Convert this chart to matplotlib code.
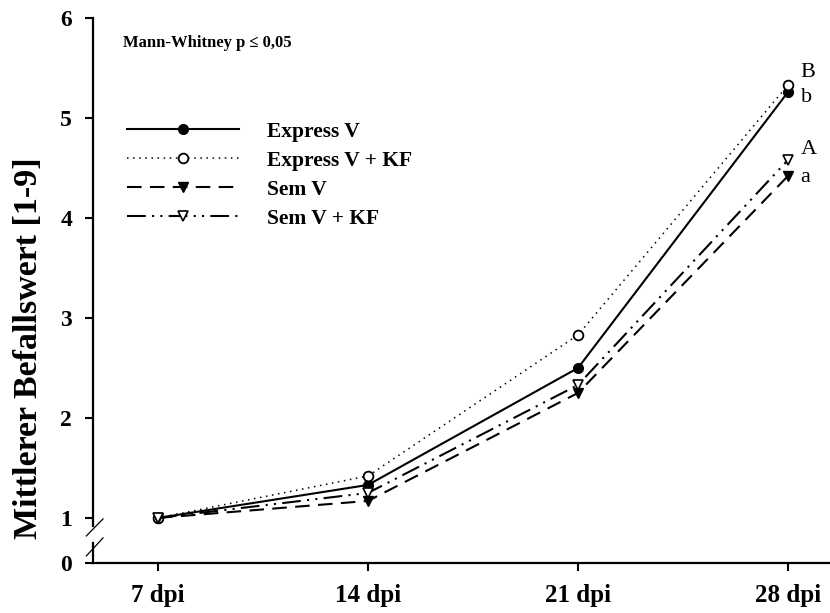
import matplotlib
matplotlib.use("Agg")
import matplotlib.pyplot as plt
from matplotlib.lines import Line2D
import matplotlib.transforms as mtransforms

categories = ["7 dpi", "14 dpi", "21 dpi", "28 dpi"]
express_v = [1.0, 1.33, 2.50, 5.26]
express_v_kf = [1.0, 1.42, 2.83, 5.33]
sem_v = [1.0, 1.17, 2.25, 4.42]
sem_v_kf = [1.0, 1.25, 2.33, 4.58]
series_names = ["Express V", "Express V + KF", "Sem V", "Sem V + KF"]
y_ticks = [1, 2, 3, 4, 5, 6]
y_zero_pos = 0.549
letters = ["B", "b", "A", "a"]
letter_y = [5.45, 5.2, 4.68, 4.4]

plt.rcParams['font.family'] = ['Liberation Serif', 'DejaVu Serif']

fig = plt.figure(figsize=(8.30, 6.13), dpi=100)
ax = fig.add_axes([93/830, 50/613, 1 - 93/830, (563 - 18)/613])

x = list(range(len(categories)))
lw = 1.5
ax.plot(x, express_v, color='black', lw=lw, ls='-', marker='o', ms=7,
        mfc='black', mec='black', label=series_names[0])
ax.plot(x, express_v_kf, color='black', lw=1.1, ls=(0, (1, 3)), marker='o', ms=7,
        mfc='white', mec='black', mew=1.3, label=series_names[1])
ax.plot(x, sem_v, color='black', lw=lw, ls=(0, (7, 4)), marker='v', ms=7.5,
        mfc='black', mec='black', label=series_names[2])
ax.plot(x, sem_v_kf, color='black', lw=lw, ls=(0, (9, 3, 1, 3, 1, 3)), marker='v', ms=7.5,
        mfc='white', mec='black', mew=1.2, label=series_names[3])

ax.set_xlim(-0.31, 3.2)
ax.set_ylim(y_zero_pos, 6.0)

ax.set_xticks(x)
ax.set_xticklabels(categories, fontsize=18, fontweight='bold')
ax.set_yticks([y_zero_pos] + y_ticks)
ax.set_yticklabels(["0"] + [str(t) for t in y_ticks], fontsize=17, fontweight='bold')
ax.tick_params(axis='both', direction='out', length=6, width=1.5, colors='black')
ax.tick_params(axis='x', pad=9)
ax.tick_params(axis='y', pad=9)

for s in ['top', 'right', 'left']:
    ax.spines[s].set_visible(False)
ax.spines['bottom'].set_linewidth(1.6)

# broken left spine
trans = mtransforms.blended_transform_factory(ax.transAxes, ax.transData)
ax.add_line(Line2D([0, 0], [0.92, 6.0], color='black', lw=1.6, transform=trans, clip_on=False))
ax.add_line(Line2D([0, 0], [y_zero_pos, 0.75], color='black', lw=1.6, transform=trans, clip_on=False))
ax.add_line(Line2D([-0.009, 0.0136], [0.82, 0.99], color='black', lw=0.9, transform=trans, clip_on=False))
ax.add_line(Line2D([-0.009, 0.0136], [0.62, 0.80], color='black', lw=0.9, transform=trans, clip_on=False))

ax.set_ylabel("Mittlerer Befallswert [1-9]", fontsize=24.5, fontweight='bold')
ax.yaxis.set_label_coords(-0.067, 0.395)

for lt, ly in zip(letters, letter_y):
    ax.text(x[-1] + 0.06, ly, lt, fontsize=16, ha='left', va='center')

ax.text(0.041, 0.955, "Mann-Whitney p \u2264 0,05", transform=ax.transAxes,
        fontsize=12, fontweight='bold', ha='left', va='center')

leg = ax.legend(loc='upper left', bbox_to_anchor=(0.02, 0.845), frameon=False,
                handlelength=5.2, handletextpad=1.3, labelspacing=0.41,
                prop={'family': 'Liberation Serif', 'weight': 'bold', 'size': 15.5})

fig.savefig("out.png", dpi=100)
